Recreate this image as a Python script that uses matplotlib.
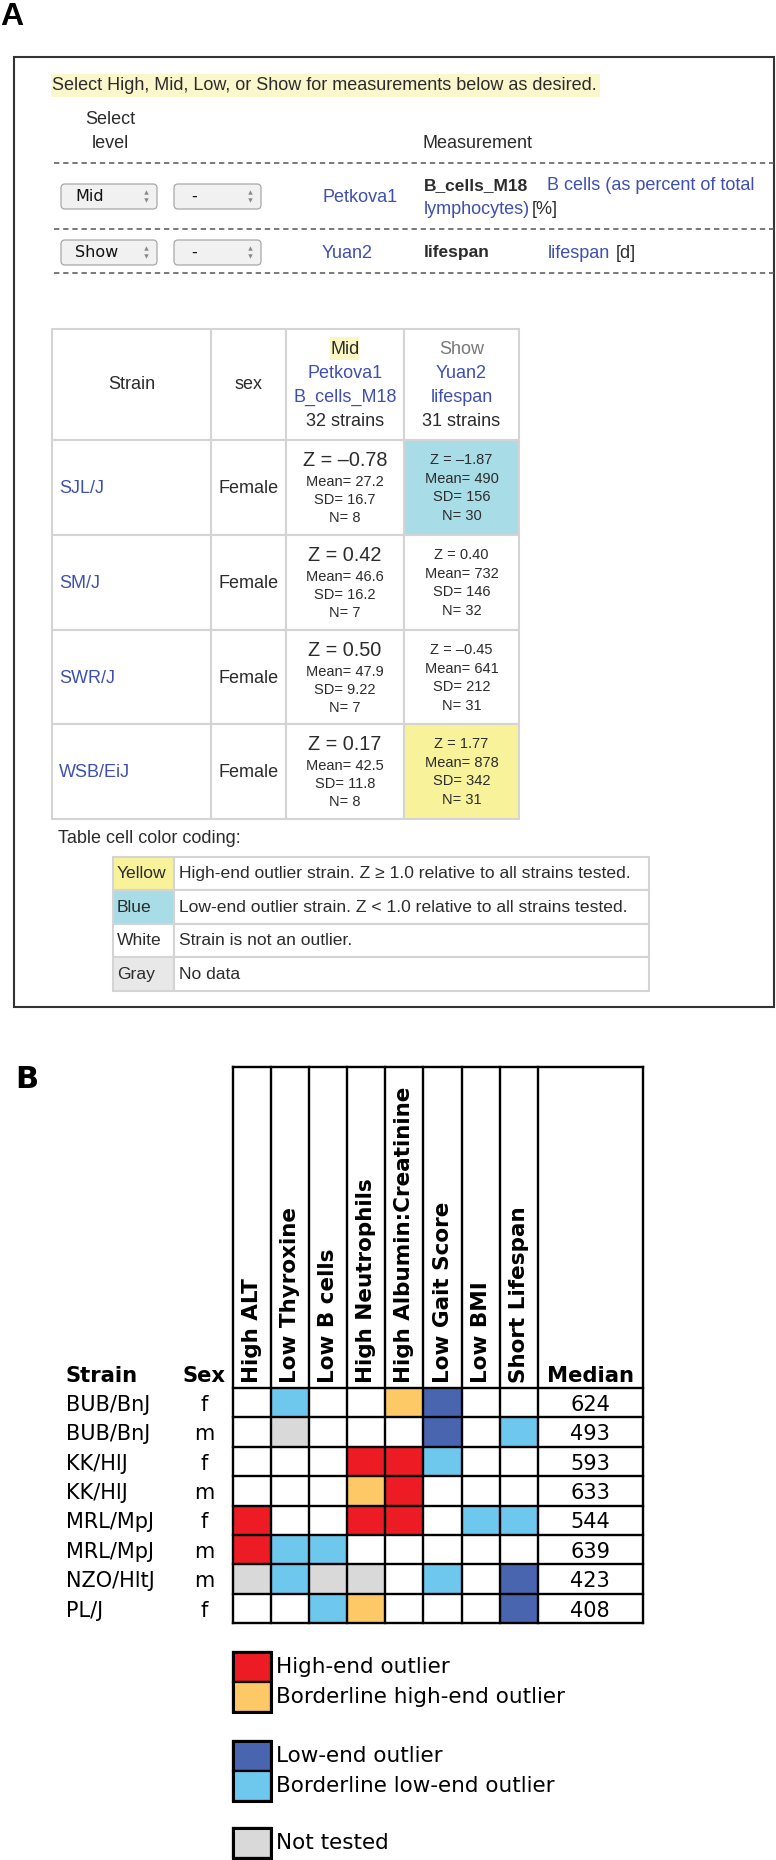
import matplotlib
matplotlib.use('Agg')
import matplotlib.pyplot as plt
from matplotlib.patches import Rectangle, FancyBboxPatch
from matplotlib.colors import ListedColormap
import numpy as np

W, H = 776, 1860
ARIAL = ['Liberation Sans', 'DejaVu Sans']
VERD = ['DejaVu Sans']
LINK = '#3f4fb0'
INK = '#2b2b2b'

# ---------------- panel A data ----------------
strains_a = ['SJL/J', 'SM/J', 'SWR/J', 'WSB/EiJ']
sex_a = ['Female', 'Female', 'Female', 'Female']
bcell_z = [-0.78, 0.42, 0.50, 0.17]
bcell_mean = [27.2, 46.6, 47.9, 42.5]
bcell_sd = [16.7, 16.2, 9.22, 11.8]
bcell_n = [8, 7, 7, 8]
life_z = [-1.87, 0.40, -0.45, 1.77]
life_mean = [490, 732, 641, 878]
life_sd = [156, 146, 212, 342]
life_n = [30, 32, 31, 31]
n_strains = [32, 31]
code_names = ['Yellow', 'Blue', 'White', 'Gray']
code_colors = ['#f8f39b', '#a8dde7', 'white', '#e8e8e8']
code_text = ['High-end outlier strain. Z \u2265 1.0 relative to all strains tested.',
             'Low-end outlier strain. Z < 1.0 relative to all strains tested.',
             'Strain is not an outlier.',
             'No data']

# ---------------- panel B data ----------------
phenotypes = ['High ALT', 'Low Thyroxine', 'Low B cells', 'High Neutrophils',
              'High Albumin:Creatinine', 'Low Gait Score', 'Low BMI', 'Short Lifespan']
strains_b = ['BUB/BnJ', 'BUB/BnJ', 'KK/HlJ', 'KK/HlJ', 'MRL/MpJ', 'MRL/MpJ', 'NZO/HltJ', 'PL/J']
sex_b = ['f', 'm', 'f', 'm', 'f', 'm', 'm', 'f']
median_b = [624, 493, 593, 633, 544, 639, 423, 408]
# 0 none, 1 high-end, 2 borderline high, 3 low-end, 4 borderline low, 5 not tested
calls = [
    [0, 4, 0, 0, 2, 3, 0, 0],
    [0, 5, 0, 0, 0, 3, 0, 4],
    [0, 0, 0, 1, 1, 4, 0, 0],
    [0, 0, 0, 2, 1, 0, 0, 0],
    [1, 0, 0, 1, 1, 0, 4, 4],
    [1, 4, 4, 0, 0, 0, 0, 0],
    [5, 4, 5, 5, 0, 4, 0, 3],
    [0, 0, 4, 2, 0, 0, 0, 3],
]
call_colors = ['white', '#ed1c24', '#fdc967', '#4a65b0', '#6ec8ee', '#d9d9d9']
call_labels = ['', 'High-end outlier', 'Borderline high-end outlier',
               'Low-end outlier', 'Borderline low-end outlier', 'Not tested']
legend_groups = [[1, 2], [3, 4], [5]]


def fmt_z(z):
    return 'Z = ' + ('\u2013' if z < 0 else '') + f'{abs(z):.2f}'


fig = plt.figure(figsize=(W / 100, H / 100), dpi=100)
ax = fig.add_axes([0, 0, 1, 1])
ax.set_xlim(0, W)
ax.set_ylim(H, 0)
ax.axis('off')

# ================= panel A =================
ax.text(0, 25, 'A', fontsize=23, fontweight='bold', family=ARIAL, va='baseline')
ax.add_patch(Rectangle((14, 57), 760, 950, fill=False, lw=1.5, ec='#333333'))

ax.add_patch(Rectangle((51, 74), 549, 23, fc='#fbf7cc', ec='none'))
ax.text(52, 86, 'Select High, Mid, Low, or Show for measurements below as desired.',
        fontsize=13, family=ARIAL, va='center', color=INK)
ax.text(110, 119, 'Select', fontsize=13, family=ARIAL, va='center', ha='center', color=INK)
ax.text(110, 143, 'level', fontsize=13, family=ARIAL, va='center', ha='center', color=INK)
ax.text(422, 143, 'Measurement', fontsize=13, family=ARIAL, va='center', color=INK)

for y in [163, 229, 273]:
    ax.plot([54, 776], [y, y], ls=(0, (3.5, 2.5)), color='#555', lw=1.1)


def dropdown(x0, y0, w, h, label, tx):
    ax.add_patch(FancyBboxPatch((x0, y0), w, h, boxstyle='round,pad=0,rounding_size=4',
                                fc='#f1f1f1', ec='#a8a8a8', lw=0.9))
    ax.text(tx, y0 + h / 2, label, fontsize=11.5, va='center', family=VERD, color='#111')
    ax.plot([x0 + w - 11], [y0 + h / 2 - 4], marker='^', ms=3.2, color='#888', mec='none')
    ax.plot([x0 + w - 11], [y0 + h / 2 + 4], marker='v', ms=3.2, color='#888', mec='none')


for lvl, yy in [('Mid', 184), ('Show', 240)]:
    dropdown(61, yy, 96, 25, lvl, 75)
    dropdown(174, yy, 87, 25, '-', 191)

ax.text(322, 197, 'Petkova1', fontsize=13, family=ARIAL, va='center', color=LINK)
ax.text(424, 186, 'B_cells_M18', fontsize=12.5, family=ARIAL, weight='bold', va='center', color=INK)
ax.text(547, 186, 'B cells (as percent of total', fontsize=13, family=ARIAL, va='center', color=LINK)
ax.text(424, 210, 'lymphocytes)', fontsize=13, family=ARIAL, va='center', color=LINK)
ax.text(532, 210, '[%]', fontsize=13, family=ARIAL, va='center', color=INK)
ax.text(322, 253, 'Yuan2', fontsize=13, family=ARIAL, va='center', color=LINK)
ax.text(424, 253, 'lifespan', fontsize=12.5, family=ARIAL, weight='bold', va='center', color=INK)
ax.text(548, 253, 'lifespan', fontsize=13, family=ARIAL, va='center', color=LINK)
ax.text(616, 253, '[d]', fontsize=13, family=ARIAL, va='center', color=INK)

# results table
col_x = [52, 211, 286, 404, 519]
row_y = [329, 440, 535, 630, 724, 819]
grid_c = '#d4d4d4'


def cell_color(z):
    if z >= 1.0:
        return code_colors[0]
    if z <= -1.0:
        return code_colors[1]
    return 'white'


for r in range(len(row_y) - 1):
    for c in range(len(col_x) - 1):
        fc = 'white'
        if r > 0 and c == 3:
            fc = cell_color(life_z[r - 1])
        ax.add_patch(Rectangle((col_x[c], row_y[r]), col_x[c + 1] - col_x[c],
                               row_y[r + 1] - row_y[r], fc=fc, ec=grid_c, lw=1.5))

cx3 = (col_x[2] + col_x[3]) / 2
cx4 = (col_x[3] + col_x[4]) / 2
hy = row_y[0]
ax.text((col_x[0] + col_x[1]) / 2, (row_y[0] + row_y[1]) / 2, 'Strain', fontsize=13,
        family=ARIAL, ha='center', va='center', color=INK)
ax.text((col_x[1] + col_x[2]) / 2, (row_y[0] + row_y[1]) / 2, 'sex', fontsize=13,
        family=ARIAL, ha='center', va='center', color=INK)
ax.add_patch(Rectangle((330, 337), 29, 23, fc='#fbf7c5', ec='none'))
for txt, dy, col in [('Mid', 20, INK), ('Petkova1', 44, LINK), ('B_cells_M18', 68, LINK),
                     (f'{n_strains[0]} strains', 92, INK)]:
    ax.text(cx3, hy + dy, txt, fontsize=13, family=ARIAL, ha='center', va='center', color=col)
for txt, dy, col in [('Show', 20, '#777'), ('Yuan2', 44, LINK), ('lifespan', 68, LINK),
                     (f'{n_strains[1]} strains', 92, INK)]:
    ax.text(cx4, hy + dy, txt, fontsize=13, family=ARIAL, ha='center', va='center', color=col)

for i in range(len(strains_a)):
    top = row_y[i + 1]
    ax.text(59, top + 48, strains_a[i], fontsize=13, family=ARIAL, va='center', color=LINK)
    ax.text((col_x[1] + col_x[2]) / 2, top + 48, sex_a[i], fontsize=13, family=ARIAL,
            ha='center', va='center', color=INK)
    ax.text(cx3, top + 20, fmt_z(bcell_z[i]), fontsize=14.3, family=ARIAL, ha='center',
            va='center', color=INK)
    for txt, dy in [(f'Mean= {bcell_mean[i]:g}', 42), (f'SD= {bcell_sd[i]:g}', 60),
                    (f'N= {bcell_n[i]}', 78)]:
        ax.text(cx3, top + dy, txt, fontsize=10.5, family=ARIAL, ha='center', va='center', color=INK)
    for txt, dy in [(fmt_z(life_z[i]), 20), (f'Mean= {life_mean[i]:g}', 39),
                    (f'SD= {life_sd[i]:g}', 57), (f'N= {life_n[i]}', 76)]:
        ax.text(cx4, top + dy, txt, fontsize=10.5, family=ARIAL, ha='center', va='center', color=INK)

ax.text(58, 838, 'Table cell color coding:', fontsize=13, family=ARIAL, va='center', color=INK)

leg_x = [113, 174, 649]
leg_y = [857, 890, 924, 957, 991]
for i in range(len(code_names)):
    y0, y1 = leg_y[i], leg_y[i + 1]
    ax.add_patch(Rectangle((leg_x[0], y0), leg_x[1] - leg_x[0], y1 - y0, fc=code_colors[i], ec=grid_c, lw=1.5))
    ax.add_patch(Rectangle((leg_x[1], y0), leg_x[2] - leg_x[1], y1 - y0, fc='white', ec=grid_c, lw=1.5))
    ax.text(117, (y0 + y1) / 2, code_names[i], fontsize=12.6, family=ARIAL, va='center', color=INK)
    ax.text(179, (y0 + y1) / 2, code_text[i], fontsize=12.6, family=ARIAL, va='center', color=INK)

# ================= panel B =================
ax.text(15, 1088, 'B', fontsize=22, fontweight='bold', family=VERD, va='baseline')

gx0, gx1, gy0, gy1 = 232.6, 642.5, 1067, 1623
n_ph = len(phenotypes)
n_rows = len(strains_b)
cell_w = (538 - gx0) / n_ph
row_h = (gy1 - 1388) / n_rows
med_w = (gx1 - 538) / cell_w
hdr_h = (1388 - gy0) / row_h

axg = fig.add_axes([gx0 / W, 1 - gy1 / H, (gx1 - gx0) / W, (gy1 - gy0) / H])
axg.set_xlim(0, n_ph + med_w)
axg.set_ylim(n_rows, -hdr_h)
axg.axis('off')
axg.pcolormesh(np.arange(n_ph + 1), np.arange(n_rows + 1), np.array(calls),
               cmap=ListedColormap(call_colors), vmin=-0.5, vmax=len(call_colors) - 0.5)

for xv in list(range(n_ph + 1)) + [n_ph + med_w]:
    axg.plot([xv, xv], [-hdr_h, n_rows], color='black', lw=1.7, clip_on=False,
             solid_capstyle='projecting')
for yv in [-hdr_h] + list(range(n_rows + 1)):
    axg.plot([0, n_ph + med_w], [yv, yv], color='black', lw=1.7, clip_on=False,
             solid_capstyle='projecting')

for i, name in enumerate(phenotypes):
    axg.text(i + 0.5, -0.17, name, rotation=90, ha='center', va='bottom', fontsize=15.5,
             fontweight='bold', family=VERD)
axg.text(n_ph + med_w / 2, -0.2, 'Median', ha='center', va='baseline', fontsize=15.2,
         fontweight='bold', family=VERD)
sx_strain = (66 - gx0) / cell_w
sx_sex = (204 - gx0) / cell_w
axg.text(sx_strain, -0.2, 'Strain', ha='left', va='baseline', fontsize=15.2, fontweight='bold',
         family=VERD, clip_on=False)
axg.text(sx_sex, -0.2, 'Sex', ha='center', va='baseline', fontsize=15.2, fontweight='bold',
         family=VERD, clip_on=False)
for r in range(n_rows):
    axg.text(sx_strain, r + 0.78, strains_b[r], ha='left', va='baseline', fontsize=15,
             family=VERD, clip_on=False)
    axg.text(sx_sex, r + 0.78, sex_b[r], ha='center', va='baseline', fontsize=15,
             family=VERD, clip_on=False)
    axg.text(n_ph + med_w / 2, r + 0.78, str(median_b[r]), ha='center', va='baseline',
             fontsize=15, family=VERD)

# legend for panel B
group_top = [1652, 1741, 1828]
sw_h = 29.8
for g, codes in zip(group_top, legend_groups):
    for k, code in enumerate(codes):
        y0 = g + k * sw_h
        ax.add_patch(Rectangle((gx0, y0), cell_w, sw_h, fc=call_colors[code], ec='black', lw=1.6))
        ax.text(276, y0 + sw_h / 2, call_labels[code], fontsize=15.5, family=VERD, va='center')
    ax.add_patch(Rectangle((gx0, g), cell_w, sw_h * len(codes), fill=False, ec='black', lw=2.2))

fig.savefig('out.png', dpi=100)
